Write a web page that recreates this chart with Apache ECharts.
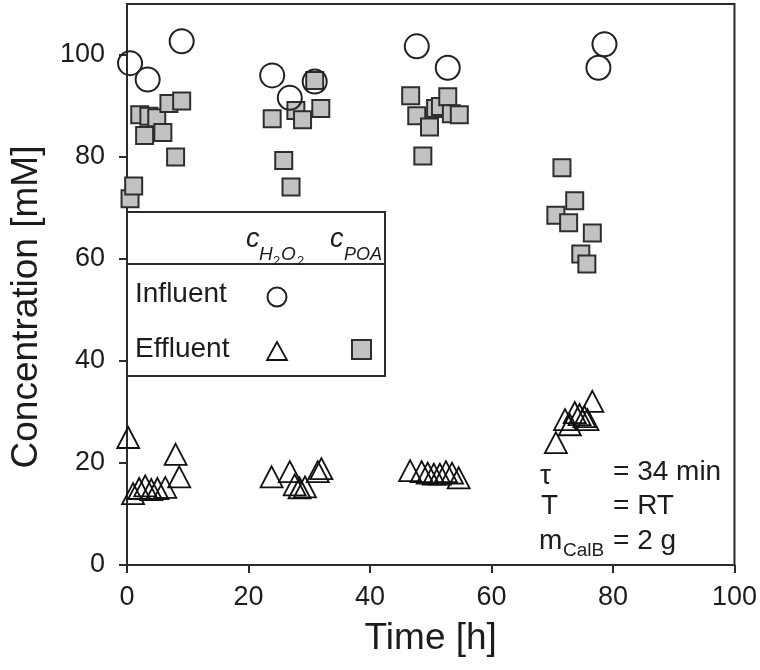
<!DOCTYPE html>
<html><head><meta charset="utf-8">
<script src="https://cdn.jsdelivr.net/npm/echarts@6/dist/echarts.min.js"></script>
<style>html,body{margin:0;padding:0;background:#fff}#c{width:760px;height:670px}</style>
</head><body><div id="c"></div>
<script>
const xTicks = [0, 20, 40, 60, 80, 100];
const yTicks = [0, 20, 40, 60, 80, 100];
const influentH2O2 = [[0.5,98.4],[3.4,95.2],[9.0,102.7],[23.9,96.0],[26.8,91.6],[30.9,94.8],[47.7,101.7],[52.8,97.5],[77.6,97.5],[78.6,102.1]];
const effluentPOA = [[0.5,71.8],[1.1,74.3],[2.1,88.3],[3.6,88.0],[4.9,87.7],[2.9,84.2],[5.9,84.8],[6.9,90.5],[9.0,91.0],[8.0,80.0],
  [23.9,87.5],[25.8,79.3],[27.0,74.1],[27.8,89.1],[28.9,87.3],[30.9,95.0],[31.9,89.5],
  [46.7,92.0],[47.7,88.1],[48.7,80.2],[49.8,85.9],[50.8,89.5],[51.6,89.9],[52.8,91.8],[53.4,88.5],[54.7,88.3],
  [70.6,68.6],[71.6,77.9],[72.7,67.1],[73.7,71.4],[74.7,61.0],[75.7,59.0],[76.6,65.1]];
const effluentH2O2 = [[0.2,25.0],[1.0,14.0],[2.0,15.0],[3.0,15.5],[4.0,14.8],[5.0,15.0],[6.3,15.2],[8.0,21.7],[8.6,17.3],
  [23.8,17.3],[26.8,18.3],[27.6,15.7],[28.4,15.1],[29.3,15.3],[31.4,18.3],[32.0,18.9],
  [46.6,18.5],[48.5,18.3],[49.5,18.0],[50.5,17.8],[51.5,17.8],[52.5,18.3],[53.5,18.0],[54.6,17.1],
  [70.6,24.0],[72.1,28.5],[72.9,27.5],[73.7,29.9],[74.5,29.5],[75.3,29.1],[75.8,28.5],[76.6,32.1]];

const FONT = "'Liberation Sans', Arial, sans-serif";
const TXT = '#1c1c1c';
const AX = '#2b2b2b';
const chart = echarts.init(document.getElementById('c'), null, {renderer: 'canvas'});
function t(text, x, y, size, opts) {
  opts = opts || {};
  return {type: 'text', z: 110, x: x, y: y, rotation: opts.rot || 0,
    style: {text: text, font: (opts.italic ? 'italic ' : '') + size + 'px ' + FONT, fill: TXT,
      align: opts.align || 'left', verticalAlign: 'middle'}};
}
chart.setOption({
  animation: false,
  backgroundColor: '#fff',
  grid: {left: 127, right: 24, top: 4, bottom: 105, show: true, borderColor: AX, borderWidth: 2, backgroundColor: 'transparent'},
  xAxis: {type: 'value', min: 0, max: 100, interval: 20,
    name: 'Time [h]', nameLocation: 'middle', nameGap: 55,
    nameTextStyle: {fontFamily: FONT, fontSize: 37, color: TXT},
    axisLine: {lineStyle: {color: AX, width: 2}},
    axisTick: {show: true, inside: false, length: 8, lineStyle: {color: AX, width: 2}, customValues: xTicks},
    axisLabel: {fontFamily: FONT, fontSize: 27, color: TXT, margin: 19, customValues: xTicks},
    splitLine: {show: false}},
  yAxis: {type: 'value', min: 0, max: 110, interval: 20,
    axisLine: {show: true, lineStyle: {color: AX, width: 2}},
    axisTick: {show: true, inside: false, length: 8, lineStyle: {color: AX, width: 2}, customValues: yTicks},
    axisLabel: {fontFamily: FONT, fontSize: 27, color: TXT, margin: 22, customValues: yTicks},
    splitLine: {show: false}},
  series: [
    {type: 'scatter', name: 'c_POA effluent', data: effluentPOA, symbol: 'rect', symbolSize: 17, z: 3,
      itemStyle: {color: '#c2c2c2', borderColor: '#2e2e2e', borderWidth: 2, opacity: 1}, silent: true},
    {type: 'scatter', name: 'c_H2O2 influent', data: influentH2O2, symbol: 'circle', symbolSize: 24, z: 4,
      itemStyle: {color: 'rgba(255,255,255,0)', borderColor: '#222', borderWidth: 2, opacity: 1}, silent: true},
    {type: 'scatter', name: 'c_H2O2 effluent', data: effluentH2O2, symbol: 'triangle', symbolSize: [22, 21], z: 5,
      itemStyle: {color: 'rgba(255,255,255,0)', borderColor: '#111', borderWidth: 1.8, opacity: 1}, silent: true}
  ],
  graphic: [
    t('Concentration [mM]', 27, 307, 37, {rot: Math.PI / 2, align: 'center'}),
    {type: 'rect', z: 100, shape: {x: 127, y: 212, width: 258, height: 164}, style: {fill: '#fff', stroke: AX, lineWidth: 2}},
    {type: 'line', z: 101, shape: {x1: 127, y1: 264, x2: 385, y2: 264}, style: {stroke: AX, lineWidth: 2}},
    t('c', 246, 239, 27, {italic: true}),
    t('H', 259, 255, 19, {italic: true}),
    t('2', 273, 261, 13),
    t('O', 281, 255, 19, {italic: true}),
    t('2', 297, 261, 13),
    t('c', 330, 239, 27, {italic: true}),
    t('POA', 344, 255, 18, {italic: true}),
    t('Influent', 135, 294, 28),
    t('Effluent', 135, 349, 28),
    {type: 'circle', z: 105, shape: {cx: 277, cy: 297, r: 9.5}, style: {fill: 'none', stroke: '#222', lineWidth: 2}},
    {type: 'polygon', z: 105, shape: {points: [[277, 342], [267, 360], [287, 360]]}, style: {fill: 'none', stroke: '#111', lineWidth: 1.8}},
    {type: 'rect', z: 105, shape: {x: 352, y: 340, width: 19, height: 19}, style: {fill: '#c2c2c2', stroke: '#2e2e2e', lineWidth: 2}},
    t('\u03c4', 540, 476, 28),
    t('= 34 min', 613, 472, 28),
    t('T', 541, 506, 28),
    t('= RT', 613, 506, 28),
    t('m', 539, 541, 28),
    t('CalB', 563, 551, 19),
    t('= 2 g', 613, 541, 28)
  ]
});
</script></body></html>
